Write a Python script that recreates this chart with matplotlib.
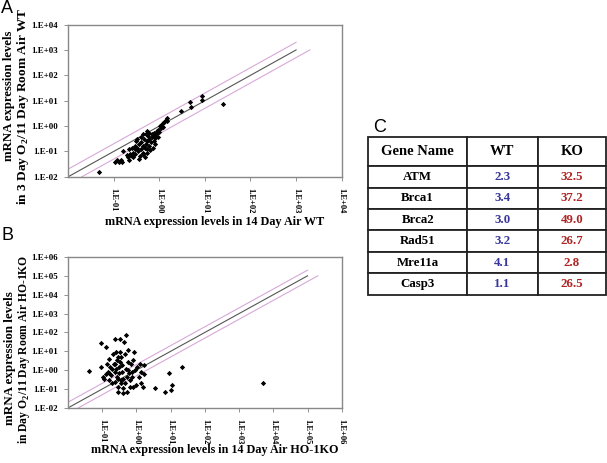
import matplotlib
matplotlib.use("Agg")
import matplotlib.pyplot as plt
import numpy as np

plt.rcParams['font.family'] = ['Liberation Serif', 'DejaVu Serif']
plt.rcParams['font.weight'] = 'bold'

# panel A: 14 Day Air WT (x) vs 3 Day O2/11 Day Room Air WT (y)
wt_x = [0.047, 0.105, 0.129, 0.145, 0.15, 0.158, 0.21, 0.22, 0.23, 0.22, 0.25, 0.27,
        0.29, 0.30, 0.31, 0.33, 0.33, 0.34, 0.36, 0.38, 0.39, 0.39, 0.40, 0.43, 0.43,
        0.45, 0.47, 0.48, 0.50, 0.50, 0.53, 0.55, 0.55, 0.57, 0.60, 0.61, 0.63, 0.65,
        0.68, 0.71, 0.73, 0.75, 0.78, 0.80, 0.85, 0.89, 0.92, 1.0, 1.05, 1.09, 1.18,
        1.24, 1.29, 1.4, 1.47, 1.5, 3.0, 4.8, 4.9, 8.7, 8.7, 25,
        0.20, 0.26, 0.36, 0.48, 0.30, 0.43, 0.53, 0.60, 0.78, 0.80, 0.95, 1.12, 0.12, 0.25]
wt_y = [0.015, 0.037, 0.040, 0.045, 0.037, 0.106, 0.058, 0.045, 0.083, 0.12, 0.067, 0.09,
        0.12, 0.078, 0.26, 0.14, 0.30, 0.10, 0.19, 0.067, 0.12, 0.36, 0.23, 0.09, 0.17,
        0.078, 0.30, 0.14, 0.50, 0.19, 0.09, 0.12, 0.26, 0.42, 0.17, 0.55, 0.11, 0.23,
        0.36, 0.50, 0.14, 0.26, 0.42, 0.19, 0.50, 0.65, 0.36, 0.60, 1.0, 0.82, 1.27,
        0.90, 1.48, 1.7, 2.1, 1.62, 4.1, 8.6, 5.5, 15.8, 10.6, 7.4,
        0.075, 0.058, 0.05, 0.06, 0.17, 0.50, 0.65, 0.30, 0.55, 0.34, 0.70, 1.1, 0.045, 0.14]

# panel B: 14 Day Air HO-1KO (x) vs Day O2/11 Day Room Air HO-1KO (y)
ko_x = [0.04, 0.092, 0.095, 0.104, 0.11, 0.13, 0.14, 0.15, 0.155, 0.16, 0.17, 0.185,
        0.19, 0.20, 0.215, 0.23, 0.23, 0.24, 0.25, 0.26, 0.27, 0.28, 0.28, 0.29, 0.30,
        0.31, 0.33, 0.34, 0.35, 0.36, 0.38, 0.385, 0.40, 0.40, 0.44, 0.46, 0.48, 0.49,
        0.52, 0.52, 0.55, 0.58, 0.60, 0.63, 0.64, 0.69, 0.72, 0.77, 0.80, 0.86, 0.90,
        0.96, 1.07, 1.17, 1.25, 1.33, 1.4, 1.55, 1.66, 1.66, 3.4, 7.0, 9.0, 10, 11,
        21.6, 5100, 0.27, 0.35, 0.19, 0.155, 0.29, 0.40, 0.55, 0.75, 0.46, 0.24, 0.33, 0.13]
ko_y = [0.92, 27, 1.5, 0.45, 0.36, 17, 2.2, 0.8, 0.3, 4.1, 1.5, 0.55,
        0.2, 7.5, 2.2, 0.8, 0.24, 46, 9.2, 1.2, 0.45, 0.13, 0.07, 5, 1.5,
        0.67, 46, 2.7, 0.3, 0.2, 1.8, 0.8, 0.11, 0.065, 31, 7.5, 75, 1.2,
        0.45, 0.07, 12, 2.7, 0.67, 0.3, 0.13, 2.2, 0.45, 3.4, 0.13, 9.2, 1.0,
        0.16, 1.5, 0.45, 2.2, 0.8, 0.2, 0.13, 1.8, 0.62, 0.11, 0.067, 0.67, 0.09, 0.16,
        1.4, 0.2, 3.6, 5, 1.2, 0.67, 0.36, 0.36, 1.0, 0.8, 0.2, 2.2, 9.2, 0.62]

genes = ['ATM', 'Brca1', 'Brca2', 'Rad51', 'Mre11a', 'Casp3']
wt_fold = ['2.3', '3.4', '3.0', '3.2', '4.1', '1.1']
ko_fold = ['32.5', '37.2', '49.0', '26.7', '2.8', '26.5']


def decade_label(e):
    return '1.E%s%02d' % ('+' if e >= 0 else '-', abs(e))


def scatter_panel(ax, x, y, ymax_exp, xmax_exp, line_end_exp):
    ax.set_xscale('log')
    ax.set_yscale('log')
    ax.set_xlim(1e-2, 10.0 ** xmax_exp)
    ax.set_ylim(1e-2, 10.0 ** ymax_exp)
    lo, hi = 1e-2, 10.0 ** line_end_exp
    ax.plot([lo, hi], [lo, hi], color='#555555', lw=0.8)
    ax.plot([lo, hi], [2 * lo, 2 * hi], color='#d8a8d8', lw=0.8)
    ax.plot([2 * lo, 2 * hi], [lo, hi], color='#d8a8d8', lw=0.8)
    ax.plot(x, y, 'D', color='black', ms=2.7, mew=0)
    yt = np.arange(-2, ymax_exp + 1)
    ax.set_yticks(10.0 ** yt)
    ax.set_yticklabels([decade_label(e) for e in yt], fontsize=6.4, fontweight='bold')
    xt = np.arange(-1, xmax_exp + 1)
    ax.set_xticks(10.0 ** xt)
    ax.set_xticklabels([decade_label(e) for e in xt], fontsize=6.1, fontweight='bold',
                       rotation=270, va='top', ha='center')
    ax.minorticks_off()
    ax.tick_params(length=3, width=0.6, color='#808080', pad=4)
    ax.tick_params(axis='x', pad=5)
    for s in ax.spines.values():
        s.set_color('#888888')
        s.set_linewidth(1.0)


fig = plt.figure(figsize=(6.07, 4.63), dpi=100)

axA = fig.add_axes([0.112, 0.618, 0.451, 0.329])
scatter_panel(axA, wt_x, wt_y, 4, 4, 3)
axB = fig.add_axes([0.112, 0.119, 0.451, 0.326])
scatter_panel(axB, ko_x, ko_y, 6, 6, 5)

fig.text(0.354, 0.52, 'mRNA expression levels in 14 Day Air WT', ha='center', va='center',
         fontsize=8.7, fontweight='bold')
fig.text(0.353, 0.028, 'mRNA expression levels in 14 Day Air HO-1KO', ha='center',
         va='center', fontsize=8.7, fontweight='bold')

# y axis titles, two lines each
ylabels = [
    ('mRNA expression levels', 0.0153, 0.793, 9.2),
    ('in 3 Day O$_\\mathregular{2}$/11 Day Room Air WT', 0.038, 0.771, 9.6),
    ('mRNA expression levels', 0.0165, 0.227, 9.4),
    ('in Day O$_\\mathregular{2}$/11 Day Room Air HO-1KO', 0.040, 0.245, 8.4),
]
for txt, xx, yy, fs in ylabels:
    fig.text(xx, yy, txt, rotation=90, ha='center', va='center', fontsize=fs,
             fontweight='bold')

for lab, xx, yy in [('A', 0.002, 1.0), ('B', 0.002, 0.51), ('C', 0.614, 0.742)]:
    fig.text(xx, yy, lab, ha='left', va='top', fontsize=13, fontweight='normal',
             family='Liberation Sans')

# panel C: table
axC = fig.add_axes([0.607, 0.363, 0.391, 0.341])
axC.axis('off')
rows = [[g, w, k] for g, w, k in zip(genes, wt_fold, ko_fold)]
tab = axC.table(cellText=rows, colLabels=['Gene Name', 'WT', 'KO'],
                colWidths=[98.5, 71, 68], bbox=[0, 0, 1, 1], cellLoc='center')
tab.auto_set_font_size(False)
for (r, c), cell in tab.get_celld().items():
    cell.set_edgecolor('#222222')
    cell.set_linewidth(1.3)
    cell.set_height(29 if r == 0 else 21.5)
    t = cell.get_text()
    t.set_fontweight('bold')
    t.set_family('Liberation Serif')
    if r == 0:
        t.set_fontsize(10.5)
        t.set_color('black')
    else:
        t.set_fontsize(9.3)
        t.set_color(['black', '#36369a', '#b02424'][c])

fig.savefig('out.png', dpi=100)
